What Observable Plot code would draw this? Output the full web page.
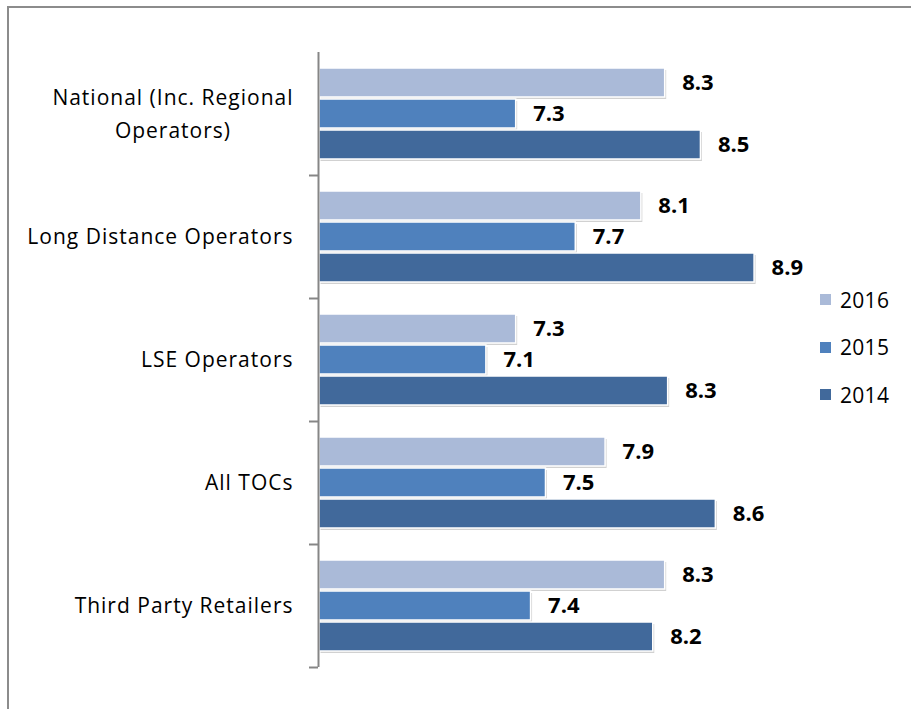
<!DOCTYPE html>
<html>
<head>
<meta charset="utf-8">
<script src="https://cdn.jsdelivr.net/npm/d3@7"></script>
<script src="https://cdn.jsdelivr.net/npm/@observablehq/plot@0.6"></script>
<style>
  html, body { margin: 0; padding: 0; background: #fff; }
  #wrap { position: relative; width: 911px; height: 709px; overflow: hidden; font-family: "Open Sans", Lato, sans-serif; }
  #frame { position: absolute; left: 7px; top: 6px; width: 1000px; height: 1000px; border: 2px solid #8c8c8c; box-sizing: border-box; }
  #legend { position: absolute; left: 820px; top: 276px; font-size: 21px; color: #000; letter-spacing: 0.3px; }
  .li { display: flex; align-items: center; height: 47.5px; }
  .sw { width: 11px; height: 11px; margin-right: 9px; }
  #chart { position: absolute; left: 0; top: 0; }
</style>
</head>
<body>
<div id="wrap">
  <div id="frame"></div>
  <div id="chart"></div>
  <div id="legend"></div>
</div>
<script>
const categories = ["National (Inc. Regional\nOperators)", "Long Distance Operators", "LSE Operators", "All TOCs", "Third Party Retailers"];
const years = ["2016", "2015", "2014"];
const values2016 = [8.3, 8.14, 7.3, 7.9, 8.3];
const values2015 = [7.3, 7.7, 7.1, 7.5, 7.4];
const values2014 = [8.54, 8.9, 8.32, 8.64, 8.22];
const colors = ["#AABAD8", "#4F81BD", "#41699B"];
const xMin = 5.98;

const seriesValues = {"2016": values2016, "2015": values2015, "2014": values2014};
const rows = [];
categories.forEach((c, i) => years.forEach(y => rows.push({category: c, year: y, value: seriesValues[y][i]})));

const fontFamily = "'Open Sans', Lato, sans-serif";
const labelSize = 21;
const spacing = 1;
const ctx = document.createElement("canvas").getContext("2d");
ctx.font = `${labelSize}px "Open Sans"`;
const labelRows = categories.map(c => {
  const lines = c.split("\n");
  return {category: c, label: c, multi: lines.length > 1, w: d3.max(lines, l => ctx.measureText(l).width + l.length * spacing)};
});
const multiW = d3.max(labelRows.filter(d => d.multi), d => d.w) || 0;

const fmt = d3.format(".1f");

const plot = Plot.plot({
  width: 911,
  height: 709,
  marginLeft: 318,
  marginRight: 0,
  marginTop: 52,
  marginBottom: 42,
  style: {fontFamily, background: "transparent"},
  x: {domain: [xMin, 10], range: [319, 319 + 4.02 * 149], axis: null},
  y: {domain: years, paddingInner: 0.05, paddingOuter: 0.45, axis: null},
  fy: {domain: categories, padding: 0, axis: null},
  color: {domain: years, range: colors},
  marks: [
    Plot.barX(rows, {fy: "category", y: "year", x1: () => xMin, x2: "value", fill: "#000", fillOpacity: 0.18, dx: 1.5, dy: 2}),
    Plot.barX(rows, {fy: "category", y: "year", x1: () => xMin, x2: "value", fill: "year", stroke: "#fff", strokeWidth: 1.5}),
    Plot.text(rows, {fy: "category", y: "year", x: "value", text: d => fmt(d.value), textAnchor: "start", dx: 17, fontWeight: "bold", fontSize: 22, fill: "#000"}),
    Plot.text(labelRows.filter(d => !d.multi), {fy: "category", frameAnchor: "left", text: "label", textAnchor: "end", dx: -25, fontSize: labelSize, fill: "#000"}),
    Plot.text(labelRows.filter(d => d.multi), {fy: "category", frameAnchor: "left", text: "label", textAnchor: "middle", dx: -25 - multiW / 2, dy: -3, fontSize: labelSize, lineHeight: 1.57, fill: "#000"}),
    Plot.axisFy({anchor: "left", tickSize: 9, dy: 61.5, text: null, stroke: "#868686", strokeWidth: 2, label: null}),
    Plot.ruleX([xMin], {stroke: "#868686", strokeWidth: 2, dx: -1})
  ]
});
const textGroups = plot.querySelectorAll('g[aria-label="text"]');
[1, 2].forEach(i => { if (textGroups[i]) textGroups[i].style.letterSpacing = spacing + "px"; });
document.getElementById("chart").appendChild(plot);

const legend = document.getElementById("legend");
years.forEach((y, i) => {
  const row = document.createElement("div");
  row.className = "li";
  row.innerHTML = `<div class="sw" style="background:${colors[i]}"></div><span>${y}</span>`;
  legend.appendChild(row);
});
</script>
</body>
</html>
